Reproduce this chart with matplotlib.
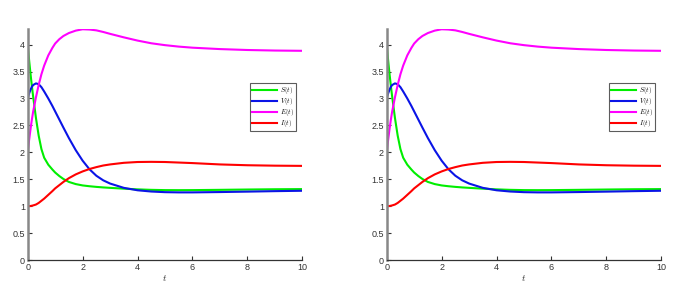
import matplotlib
matplotlib.use("Agg")
import matplotlib.pyplot as plt

plt.rcParams["font.family"] = ["Liberation Sans", "DejaVu Sans"]
plt.rcParams["mathtext.fontset"] = "cm"

# (both panels show the same solution)
t = [0, 0.05, 0.1, 0.15, 0.2, 0.3, 0.4, 0.5, 0.6, 0.75, 0.9, 1.0, 1.15, 1.3, 1.5,
     1.75, 2.0, 2.25, 2.5, 2.75, 3.0, 3.5, 4.0, 4.5, 5.0, 5.5, 6.0, 7.0, 8.0, 9.0, 10.0]
S = [4.0, 3.72, 3.47, 3.24, 3.03, 2.64, 2.31, 2.06, 1.90, 1.77, 1.68, 1.625, 1.56, 1.505, 1.45,
     1.41, 1.385, 1.37, 1.358, 1.348, 1.34, 1.325, 1.312, 1.303, 1.298, 1.297, 1.298, 1.303, 1.309, 1.314, 1.317]
V = [3.0, 3.09, 3.16, 3.215, 3.25, 3.28, 3.265, 3.21, 3.13, 3.0, 2.86, 2.76, 2.61, 2.46, 2.265,
     2.04, 1.845, 1.685, 1.565, 1.48, 1.42, 1.34, 1.295, 1.272, 1.26, 1.256, 1.256, 1.262, 1.27, 1.279, 1.286]
E = [2.0, 2.22, 2.42, 2.60, 2.76, 3.02, 3.25, 3.45, 3.61, 3.80, 3.94, 4.02, 4.10, 4.16, 4.215,
     4.26, 4.285, 4.28, 4.265, 4.235, 4.20, 4.135, 4.075, 4.025, 3.99, 3.963, 3.943, 3.917, 3.90, 3.89, 3.885]
I = [1.0, 1.0, 1.003, 1.008, 1.014, 1.03, 1.06, 1.10, 1.14, 1.21, 1.28, 1.33, 1.39, 1.45, 1.52,
     1.59, 1.645, 1.69, 1.725, 1.755, 1.775, 1.805, 1.82, 1.823, 1.82, 1.81, 1.80, 1.775, 1.76, 1.752, 1.748]

series = [(S, "#00ee00", r"$S(t)$"), (V, "#0a14e6", r"$V(t)$"),
          (E, "#ff00ff", r"$E(t)$"), (I, "#ff0000", r"$I(t)$")]

fig = plt.figure(figsize=(6.94, 2.90), dpi=100)
fig.patch.set_facecolor("white")

for left in (0.0399, 0.5572):
    ax = fig.add_axes([left, 0.1034, 0.3957, 0.7966])
    for y, c, lab in series:
        ax.plot(t, y, color=c, linewidth=1.5, label=lab)
    ax.set_xlim(0, 10)
    ax.set_ylim(0, 4.29)
    ax.set_xticks([0, 2, 4, 6, 8, 10])
    ax.set_yticks([0, 0.5, 1, 1.5, 2, 2.5, 3, 3.5, 4])
    ax.set_yticklabels(["0", "0.5", "1", "1.5", "2", "2.5", "3", "3.5", "4"])
    ax.tick_params(direction="in", length=3, width=0.8, labelsize=6.5,
                   colors="#333333", pad=2)
    ax.spines["top"].set_visible(False)
    ax.spines["right"].set_visible(False)
    ax.spines["left"].set_color("#888888")
    ax.spines["left"].set_linewidth(1.8)
    ax.spines["bottom"].set_color("#333333")
    ax.spines["bottom"].set_linewidth(0.9)
    ax.set_xlabel(r"$t$", fontsize=7, labelpad=1, color="#333333")
    leg = ax.legend(loc="upper left", bbox_to_anchor=(0.81, 0.765), fontsize=5.0,
                    frameon=True, fancybox=False, handlelength=3.6,
                    handletextpad=0.4, borderpad=0.3, labelspacing=0.0,
                    borderaxespad=0)
    leg.get_frame().set_edgecolor("#333333")
    leg.get_frame().set_linewidth(0.8)

fig.savefig("out.png", dpi=100, facecolor="white")
